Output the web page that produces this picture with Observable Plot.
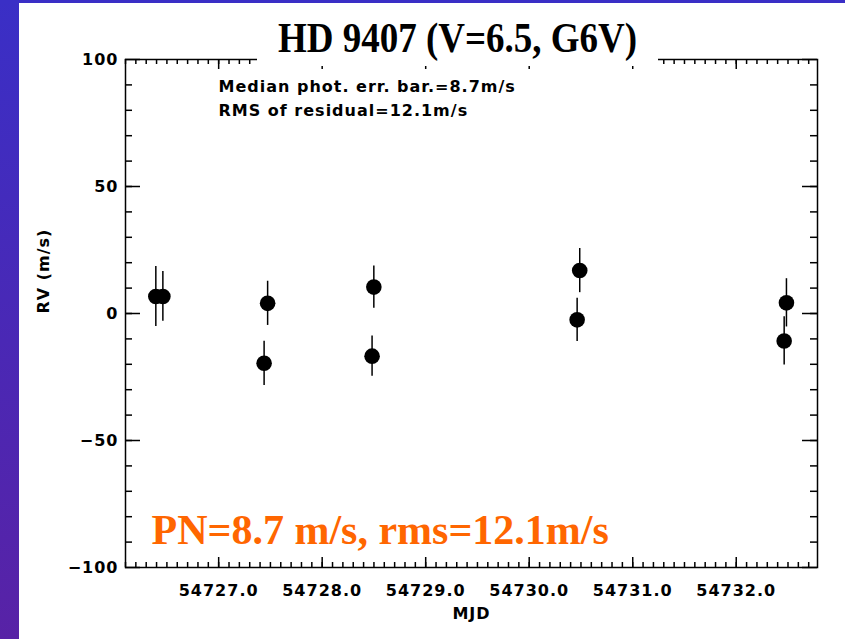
<!DOCTYPE html>
<html>
<head>
<meta charset="utf-8">
<script src="https://cdn.jsdelivr.net/npm/d3@7"></script>
<script src="https://cdn.jsdelivr.net/npm/@observablehq/plot@0.6"></script>
<style>
  html, body { margin: 0; padding: 0; background: #fff; }
  #page { position: relative; width: 845px; height: 639px; overflow: hidden; background: #fff; }
  #lband { position: absolute; left: 0; top: 0; width: 19px; height: 639px; background: linear-gradient(#3a2fc6, #5822a6); }
  #tband { position: absolute; left: 0; top: 0; width: 845px; height: 3px; background: #3a2fc6; }
  #chart { position: absolute; left: 0; top: 0; }
  #chart svg text { letter-spacing: 1px; }
  #titlebox { position: absolute; left: 0; top: 0; }
</style>
</head>
<body>
<div id="page">
  <div id="chart"></div>
  <div id="lband"></div>
  <div id="tband"></div>
</div>
<script>
// ---- data ----
const mjd   = [54726.393, 54726.461, 54727.473, 54727.439, 54728.499, 54728.482, 54730.488, 54730.463, 54732.485, 54732.463];
const rv    = [6.7, 6.7, 4.0, -19.6, 10.4, -16.8, 16.9, -2.5, 4.2, -10.8];
const rvErr = [11.8, 9.8, 8.7, 8.7, 8.3, 7.9, 8.7, 8.5, 9.5, 9.5];

const xMajor = [54727, 54728, 54729, 54730, 54731, 54732];
const yMajor = [-100, -50, 0, 50, 100];
const xDomain = [54726.1, 54732.785];
const yDomain = [-100, 100];

const titleText = "HD 9407 (V=6.5, G6V)";
const noteLines = ["Median phot. err. bar.=8.7m/s", "RMS of residual=12.1m/s"];
const pnLabel = "PN=8.7 m/s, rms=12.1m/s";
const xLabel = "MJD";
const yLabel = "RV (m/s)";

// ---- derived ----
const xMinor = d3.range(1, 68).map(i => +(54726 + i / 10).toFixed(1)).filter(v => v < xDomain[1]);
const yMinor = d3.range(-90, 100, 10);
const data = mjd.map((x, i) => ({x, y: rv[i], lo: rv[i] - rvErr[i], hi: rv[i] + rvErr[i]}));

const W = 845, H = 639, mL = 125, mR = 28, mT = 59, mB = 72;
const fh = H - mT - mB, fw = W - mL - mR;
const tick = {stroke: "black", strokeWidth: 1.5};
const fmtY = d => (d < 0 ? "\u2212" + Math.abs(d) : String(d));

const chart = Plot.plot({
  width: W, height: H,
  marginLeft: mL, marginRight: mR, marginTop: mT, marginBottom: mB,
  x: {domain: xDomain, axis: null},
  y: {domain: yDomain, axis: null},
  style: {fontFamily: "DejaVu Sans", fontWeight: "bold", fontSize: "16px", color: "black", background: "transparent"},
  marks: [
    Plot.ruleX(xMinor, {x: d => d, insetTop: fh - 5, ...tick}),
    Plot.ruleX(xMinor, {x: d => d, insetBottom: fh - 5, ...tick}),
    Plot.ruleX(xMajor, {x: d => d, insetTop: fh - 10, ...tick}),
    Plot.ruleX(xMajor, {x: d => d, insetBottom: fh - 10, ...tick}),
    Plot.ruleY(yMinor, {y: d => d, insetRight: fw - 7, ...tick}),
    Plot.ruleY(yMinor, {y: d => d, insetLeft: fw - 7, ...tick}),
    Plot.ruleY(yMajor, {y: d => d, insetRight: fw - 15, ...tick}),
    Plot.ruleY(yMajor, {y: d => d, insetLeft: fw - 15, ...tick}),
    Plot.frame({stroke: "black", strokeWidth: 1.5}),
    Plot.ruleX(data, {x: "x", y1: "lo", y2: "hi", stroke: "black", strokeWidth: 1.5}),
    Plot.dot(data, {x: "x", y: "y", r: 7.8, fill: "black"}),
    Plot.text(xMajor, {x: d => d, frameAnchor: "bottom", dy: 23, lineAnchor: "middle", text: d => d.toFixed(1), fill: "black"}),
    Plot.text(yMajor, {y: d => d, frameAnchor: "left", dx: -7, textAnchor: "end", lineAnchor: "middle", text: fmtY, fill: "black"}),
    Plot.text([xLabel], {frameAnchor: "bottom", dy: 46, lineAnchor: "middle", fill: "black"}),
    Plot.text([yLabel], {frameAnchor: "left", dx: -82, rotate: -90, lineAnchor: "middle", fill: "black"}),
    Plot.text([noteLines.join("\n")], {frameAnchor: "top-left", dx: 93, dy: 15, lineAnchor: "top", textAnchor: "start", lineHeight: 1.5, fill: "black"}),
    Plot.text([pnLabel], {frameAnchor: "bottom-left", dx: 26, dy: -24, lineAnchor: "bottom", textAnchor: "start",
      fontFamily: "Liberation Serif", fontWeight: "bold", fontSize: 42, fill: "#ff6600"})
  ]
});
document.getElementById("chart").appendChild(chart);
d3.select(chart).selectAll("text")
  .filter(function () { return this.textContent === pnLabel; })
  .style("letter-spacing", "0px");

// title box overlapping the top of the frame
const ns = "http://www.w3.org/2000/svg";
const tsvg = document.createElementNS(ns, "svg");
tsvg.setAttribute("id", "titlebox");
tsvg.setAttribute("width", 845);
tsvg.setAttribute("height", 80);
const rect = document.createElementNS(ns, "rect");
rect.setAttribute("x", 257); rect.setAttribute("y", 8);
rect.setAttribute("width", 401); rect.setAttribute("height", 58);
rect.setAttribute("fill", "white");
tsvg.appendChild(rect);
const t = document.createElementNS(ns, "text");
t.setAttribute("x", 457.5); t.setAttribute("y", 52);
t.setAttribute("text-anchor", "middle");
t.setAttribute("font-family", "Liberation Serif");
t.setAttribute("font-weight", "bold");
t.setAttribute("font-size", 42);
t.setAttribute("textLength", 359);
t.setAttribute("lengthAdjust", "spacingAndGlyphs");
t.textContent = titleText;
tsvg.appendChild(t);
document.getElementById("page").appendChild(tsvg);
</script>
</body>
</html>
